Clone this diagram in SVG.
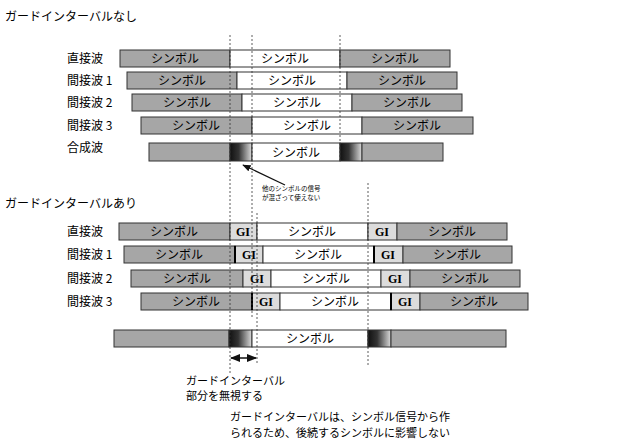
<svg xmlns="http://www.w3.org/2000/svg" width="640" height="447" viewBox="0 0 640 447">
<style>
text{font-family:"Noto Sans CJK JP","Liberation Serif",serif;fill:#000}
.lb{font-size:12px}
.lb2{font-size:11px}
.sym{font-size:12px;text-anchor:middle}
.gt{font-family:"Liberation Serif",serif;font-weight:bold}
.g{fill:#a6a6a6;stroke:#333;stroke-width:1}
.w{fill:#fff;stroke:#333;stroke-width:1}
.gi{fill:#dcdcdc;stroke:#333;stroke-width:1}
.d{fill:url(#mix);stroke:#333;stroke-width:1}
.v{stroke:#333;stroke-width:0.8;stroke-dasharray:2,2;fill:none}
</style>
<defs>
<linearGradient id="mix" x1="0" x2="1"><stop offset="0" stop-color="#111"/><stop offset="0.4" stop-color="#333"/><stop offset="1" stop-color="#ddd"/></linearGradient>
<marker id="ah" viewBox="0 0 10 10" refX="9" refY="5" markerWidth="7" markerHeight="7" orient="auto-start-reverse"><path d="M0,1L10,5L0,9z" fill="#111"/></marker>
</defs>
<rect width="640" height="447" fill="#fff"/>
<text class="lb" x="5" y="21">ガードインターバルなし</text>
<text class="lb" x="5" y="208">ガードインターバルあり</text>
<g id="top-direct"><text class="lb" x="67" y="63">直接波</text>
<rect class="g" x="120" y="50" width="110" height="17"/><rect class="w" x="230" y="50" width="110" height="17"/><rect class="g" x="340" y="50" width="110" height="17"/>
<text class="sym" x="175" y="63">シンボル</text><text class="sym" x="285" y="63">シンボル</text><text class="sym" x="395" y="63">シンボル</text></g>
<g id="top-ind1"><text class="lb" x="67" y="85">間接波 1</text>
<rect class="g" x="127" y="72" width="110" height="17"/><rect class="w" x="237" y="72" width="110" height="17"/><rect class="g" x="347" y="72" width="110" height="17"/>
<text class="sym" x="182" y="85">シンボル</text><text class="sym" x="292" y="85">シンボル</text><text class="sym" x="402" y="85">シンボル</text></g>
<g id="top-ind2"><text class="lb" x="67" y="107">間接波 2</text>
<rect class="g" x="132" y="94" width="110" height="17"/><rect class="w" x="242" y="94" width="110" height="17"/><rect class="g" x="352" y="94" width="110" height="17"/>
<text class="sym" x="187" y="107">シンボル</text><text class="sym" x="297" y="107">シンボル</text><text class="sym" x="407" y="107">シンボル</text></g>
<g id="top-ind3"><text class="lb" x="67" y="130">間接波 3</text>
<rect class="g" x="141" y="117" width="111" height="17"/><rect class="w" x="252" y="117" width="110" height="17"/><rect class="g" x="362" y="117" width="111" height="17"/>
<text class="sym" x="196" y="130">シンボル</text><text class="sym" x="307" y="130">シンボル</text><text class="sym" x="417" y="130">シンボル</text></g>
<g id="top-comb"><text class="lb" x="67" y="152">合成波</text>
<rect class="g" x="149" y="143" width="81" height="18"/><rect class="d" x="230" y="143" width="22" height="18"/><rect class="w" x="252" y="143" width="88" height="18"/><rect class="d" x="340" y="143" width="22" height="18"/><rect class="g" x="362" y="143" width="81" height="18"/>
<text class="sym" x="296" y="157">シンボル</text></g>
<g id="note"><text x="262" y="191" style="font-size:6.5px">他のシンボルの信号</text><text x="262" y="200" style="font-size:6.5px">が混ざって使えない</text></g>

<g id="b-direct"><text class="lb" x="67" y="236">直接波</text>
<rect class="g" x="119" y="223" width="111" height="17"/><rect class="gi" x="230" y="223" width="27" height="17"/><rect class="w" x="257" y="223" width="111" height="17"/><rect class="gi" x="368" y="223" width="29" height="17"/><rect class="g" x="397" y="223" width="110" height="17"/>
<text class="sym" x="174" y="236">シンボル</text><text class="sym gt" x="243" y="236">GI</text><text class="sym" x="312" y="236">シンボル</text><text class="sym gt" x="382" y="236">GI</text><text class="sym" x="452" y="236">シンボル</text></g>
<g id="b-ind1"><text class="lb" x="67" y="259">間接波 1</text>
<rect class="g" x="124" y="246" width="111" height="17"/><rect class="gi" x="235" y="246" width="28" height="17"/><rect class="w" x="263" y="246" width="111" height="17"/><rect class="gi" x="374" y="246" width="29" height="17"/><rect class="g" x="403" y="246" width="109" height="17"/>
<line x1="235" y1="246" x2="235" y2="263" stroke="#000" stroke-width="2"/><line x1="374" y1="246" x2="374" y2="263" stroke="#000" stroke-width="2"/>
<text class="sym" x="179" y="259">シンボル</text><text class="sym gt" x="249" y="259">GI</text><text class="sym" x="318" y="259">シンボル</text><text class="sym gt" x="388" y="259">GI</text><text class="sym" x="457" y="259">シンボル</text></g>
<g id="b-ind2"><text class="lb" x="67" y="283">間接波 2</text>
<rect class="g" x="131" y="270" width="112" height="17"/><rect class="gi" x="243" y="270" width="28" height="17"/><rect class="w" x="271" y="270" width="110" height="17"/><rect class="gi" x="381" y="270" width="29" height="17"/><rect class="g" x="410" y="270" width="110" height="17"/>
<text class="sym" x="187" y="283">シンボル</text><text class="sym gt" x="257" y="283">GI</text><text class="sym" x="326" y="283">シンボル</text><text class="sym gt" x="395" y="283">GI</text><text class="sym" x="465" y="283">シンボル</text></g>
<g id="b-ind3"><text class="lb" x="67" y="306">間接波 3</text>
<rect class="g" x="141" y="293" width="111" height="17"/><rect class="gi" x="252" y="293" width="28" height="17"/><rect class="w" x="280" y="293" width="111" height="17"/><rect class="gi" x="391" y="293" width="29" height="17"/><rect class="g" x="420" y="293" width="108" height="17"/>
<line x1="252" y1="293" x2="252" y2="310" stroke="#000" stroke-width="2"/><line x1="391" y1="293" x2="391" y2="310" stroke="#000" stroke-width="2"/>
<text class="sym" x="196" y="306">シンボル</text><text class="sym gt" x="266" y="306">GI</text><text class="sym" x="335" y="306">シンボル</text><text class="sym gt" x="405" y="306">GI</text><text class="sym" x="474" y="306">シンボル</text></g>
<g id="b-comb">
<rect class="g" x="114" y="330" width="115" height="17"/><rect class="d" x="229" y="330" width="23" height="17"/><rect class="w" x="252" y="330" width="116" height="17"/><rect class="d" x="368" y="330" width="23" height="17"/><rect class="g" x="391" y="330" width="115" height="17"/>
<text class="sym" x="310" y="343">シンボル</text></g>
<text class="lb2" x="186" y="385">ガードインターバル</text>
<text class="lb2" x="186" y="400">部分を無視する</text>
<text class="lb2" x="230" y="421">ガードインターバルは、シンボル信号から作</text>
<text class="lb2" x="230" y="437">られるため、後続するシンボルに影響しない</text>

<g id="connectors">
<line class="v" x1="230" y1="35" x2="230" y2="375"/>
<line class="v" x1="252" y1="35" x2="252" y2="317"/>
<line class="v" x1="340" y1="35" x2="340" y2="162"/>
<line class="v" x1="257" y1="213" x2="257" y2="365"/>
<line class="v" x1="368" y1="183" x2="368" y2="365"/>
<line x1="285" y1="185" x2="243" y2="165" stroke="#111" stroke-width="1.2" marker-end="url(#ah)"/>
<line x1="231" y1="358" x2="256" y2="358" stroke="#111" stroke-width="1.5" marker-start="url(#ah)" marker-end="url(#ah)"/>
</g>
</svg>
